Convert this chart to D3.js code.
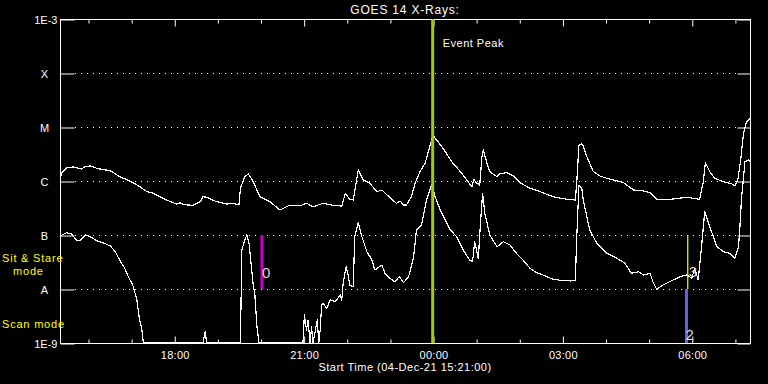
<!DOCTYPE html>
<html>
<head>
<meta charset="utf-8">
<script src="https://cdn.jsdelivr.net/npm/d3@7"></script>
<style>
  html, body { margin: 0; padding: 0; background: #000; }
  svg { display: block; }
  text { font-family: "Liberation Sans", Arial, sans-serif; fill: #fff; }
</style>
</head>
<body>
<svg id="chart" width="768" height="384"></svg>
<script>
// ---- DATA ----
const startLabel = "Start Time (04-Dec-21 15:21:00)";
const chartTitle = "GOES 14 X-Rays:";
const startUTC = Date.UTC(2021, 11, 4, 15, 21);
const spanMinutes = 960;

const yTickValues = [1e-9, 1e-8, 1e-7, 1e-6, 1e-5, 1e-4, 1e-3];
const yTickLabels = ["1E-9", "A", "B", "C", "M", "X", "1E-3"];

// Long channel (1-8 Å): minutes after start, flux W/m²
const longMinutes = [1,2,9,19,30,35,42,53,70,83,97,111,121,130,148,162,167,172,185,195,199,204,218,232,241,249,251,257,262,269,278,292,306,318,334,343,352,366,380,392,397,403,408,415,422,431,441,448,455,468,473,478,482,489,494,501,508,515,519,522,533,545,557,566,573,576,579,584,587,589,594,598,608,612,621,631,640,654,668,686,705,717,719,722,726,728,733,742,751,761,775,784,798,812,821,830,849,872,890,895,898,904,911,923,935,939,943,947,951,955,960];
const longFlux = [1.19e-6,1.39e-6,1.76e-6,1.82e-6,1.67e-6,1.84e-6,1.90e-6,1.69e-6,1.55e-6,1.20e-6,1.01e-6,7.84e-7,6.34e-7,5.92e-7,4.45e-7,3.75e-7,3.96e-7,3.64e-7,3.55e-7,4.14e-7,5.12e-7,4.99e-7,4.14e-7,3.75e-7,3.86e-7,3.60e-7,7.33e-7,1.20e-6,1.35e-6,9.7e-7,5.12e-7,4.14e-7,2.90e-7,3.49e-7,3.49e-7,3.86e-7,3.34e-7,3.86e-7,3.55e-7,3.44e-7,5.92e-7,4.58e-7,4.45e-7,1.60e-6,1.04e-6,9.06e-7,6.34e-7,6.81e-7,5.51e-7,3.86e-7,4.27e-7,3.60e-7,3.60e-7,5.12e-7,9.06e-7,1.49e-6,2.13e-6,4.64e-6,7.11e-6,6.18e-6,4.04e-6,2.28e-6,1.49e-6,1.04e-6,7.84e-7,1.07e-6,9.3e-7,8.43e-7,2.82e-6,3.75e-6,2.13e-6,1.49e-6,1.20e-6,1.35e-6,1.43e-6,1.24e-6,9.3e-7,7.33e-7,6.34e-7,5.12e-7,4.58e-7,4.45e-7,9.7e-7,4.64e-6,4.84e-6,4.45e-6,2.82e-6,1.49e-6,1.24e-6,1.12e-6,1.01e-6,9.3e-7,6.81e-7,6.53e-7,6.07e-7,4.58e-7,4.58e-7,4.99e-7,4.58e-7,9.7e-7,2.18e-6,1.49e-6,1.12e-6,9.7e-7,8.79e-7,8.07e-7,1.04e-6,2.45e-6,7.64e-6,1.25e-5,1.45e-5];

// Short channel (0.5-4 Å): minutes after start, flux W/m² (values under 1E-9 sit on the floor)
const shortMinutes = [1,9,16,23,28,35,42,51,60,70,77,83,90,95,100,102,107,110,114,116,199,202,204,251,253,257,260,263,269,271,274,277,338,340,343,345,348,350,352,358,360,362,364,366,371,376,383,390,392,394,398,401,403,408,410,415,420,427,434,438,448,452,459,466,472,478,485,492,496,503,510,517,522,529,543,552,561,570,574,577,582,585,588,591,598,608,617,626,635,645,654,663,672,686,700,710,717,719,722,726,728,737,747,761,775,786,795,805,812,821,825,830,839,853,863,872,879,883,888,893,897,904,914,923,932,939,944,946,948,953,958,960];
const shortFlux = [9.7e-8,1.10e-7,1.04e-7,8.07e-8,7.84e-8,1.0e-7,9.3e-8,7.84e-8,7.2e-8,6.25e-8,4.91e-8,3.44e-8,2.42e-8,1.69e-8,1.28e-8,1.10e-8,6.25e-9,3.07e-9,1.74e-9,5e-10,5e-10,1.62e-9,5e-10,5e-10,5.27e-8,8.07e-8,1.0e-7,7.0e-8,1.10e-8,8.3e-9,2.0e-9,5e-10,5e-10,3.3e-9,1.74e-9,2.67e-9,5e-10,2.0e-9,5e-10,2.67e-9,5e-10,1.74e-9,5.06e-9,5.43e-9,4.4e-9,6.25e-9,5.82e-9,7.74e-9,6.25e-9,1.28e-8,2.59e-8,1.82e-8,1.19e-8,1.10e-8,9.3e-8,1.69e-7,9.3e-8,4.91e-8,3.44e-8,2.25e-8,2.78e-8,1.95e-8,1.58e-8,1.36e-8,1.69e-8,1.31e-8,1.69e-8,3.96e-8,1.24e-7,1.53e-7,4.45e-7,8.43e-7,5.12e-7,2.90e-7,1.24e-7,9.3e-8,5.27e-8,3.44e-8,3.2e-8,7.5e-8,3.7e-8,1.65e-7,5.92e-7,2.52e-7,1.0e-7,6.07e-8,7.5e-8,6.53e-8,4.58e-8,3.34e-8,2.42e-8,2.0e-8,1.82e-8,1.51e-8,1.43e-8,1.41e-8,1.47e-8,9.3e-8,8.43e-7,7.33e-7,4.45e-7,1.24e-7,7.0e-8,4.58e-8,3.7e-8,2.99e-8,1.95e-8,2.09e-8,1.82e-8,1.95e-8,1.36e-8,9.9e-9,1.19e-8,1.47e-8,1.69e-8,1.82e-8,1.58e-8,2.42e-8,1.47e-8,7.0e-8,2.70e-7,1.43e-7,6.07e-8,4.91e-8,4.58e-8,3.7e-8,6.07e-8,1.43e-7,4.45e-7,2.28e-6,2.45e-6,2.28e-6];

// Vertical markers: minutes after start, flux range, label
const markerNames   = ["Event Peak", "0", "2", "3"];
const markerMinutes = [518.5, 281, 871.6, 873.4];
const markerLow     = [1e-9, 1e-8, 1e-9, 1e-8];
const markerHigh    = [1e-3, 1e-7, 1e-8, 1e-7];
const markerColors  = ["#a2cc00", "#c800c8", "#6464e6", "#ffff00"];

// ---- CHART ----
const svg = d3.select("#chart");
svg.append("rect").attr("width", 768).attr("height", 384).attr("fill", "#000");

const L = 60, R = 750, T = 19, B = 343;
const toDate = m => new Date(startUTC + m * 60000);
const x = d3.scaleUtc().domain([toDate(0), toDate(spanMinutes)]).range([L, R]);
const y = d3.scaleLog().domain([1e-9, 1e-3]).range([B, T]).clamp(true);

// dotted gridlines
const gridVals = yTickValues.slice(1, -1);
svg.append("g").selectAll("line").data(gridVals).join("line")
  .attr("x1", L + 15).attr("x2", R - 13)
  .attr("y1", d => y(d) + 0.5).attr("y2", d => y(d) + 0.5)
  .attr("stroke", "#fff").attr("stroke-width", 1)
  .attr("stroke-dasharray", "1,5");

// Y axes
const yLeft = svg.append("g").attr("transform", `translate(${L + 0.5},0.5)`)
  .call(d3.axisLeft(y).tickValues(yTickValues)
    .tickFormat((d, i) => yTickLabels[i]).tickSize(-14).tickPadding(3));
const yRight = svg.append("g").attr("transform", `translate(${R + 0.5},0.5)`)
  .call(d3.axisRight(y).tickValues(yTickValues).tickFormat("").tickSize(-13));
[yLeft, yRight].forEach(g => {
  g.select(".domain").remove();
  g.selectAll("line").attr("stroke", "#fff");
});
yLeft.selectAll("text")
  .style("font-size", "11px").attr("fill", "#fff").attr("font-family", null)
  .attr("x", d => (d === 1e-9 || d === 1e-3) ? -3 : -16)
  .attr("text-anchor", d => (d === 1e-9 || d === 1e-3) ? "end" : "middle");

// X axes
const hourTicks = d3.utcHour.every(1).range(toDate(0), toDate(spanMinutes));
const isMajor = d => d.getUTCHours() % 3 === 0;
const xBottom = svg.append("g").attr("transform", `translate(0.5,${B + 0.5})`)
  .call(d3.axisBottom(x).tickValues(hourTicks)
    .tickFormat(d => isMajor(d) ? d3.utcFormat("%H:%M")(d) : "")
    .tickSize(-4).tickPadding(8));
const xTop = svg.append("g").attr("transform", `translate(0.5,${T + 0.5})`)
  .call(d3.axisTop(x).tickValues(hourTicks).tickFormat("").tickSize(-4));
[xBottom, xTop].forEach(g => {
  g.select(".domain").remove();
  g.selectAll("line").attr("stroke", "#fff")
    .attr("y2", function(d) { return (+d3.select(this).attr("y2")) * (isMajor(d) ? 1.75 : 1); });
});
xBottom.selectAll("text").style("font-size", "11px").attr("fill", "#fff")
  .attr("font-family", null).style("letter-spacing", "0.3px");

// frame
svg.append("rect").attr("x", L + 0.5).attr("y", T + 0.5)
  .attr("width", R - L).attr("height", B - T)
  .attr("fill", "none").attr("stroke", "#fff").attr("stroke-width", 1);

// curves
const clip = svg.append("clipPath").attr("id", "plotclip")
  .append("rect").attr("x", L).attr("y", T).attr("width", R - L + 1).attr("height", B - T + 1);
const line = d3.line().x(d => x(toDate(d[0]))).y(d => y(d[1]));
const longData = longMinutes.map((m, i) => [m, longFlux[i]]);
const shortData = shortMinutes.map((m, i) => [m, shortFlux[i]]);
const curves = svg.append("g").attr("clip-path", "url(#plotclip)");
[longData, shortData].forEach(ds => {
  curves.append("path").datum(ds).attr("d", line)
    .attr("fill", "none").attr("stroke", "#fff").attr("stroke-width", 1.2)
    .attr("stroke-linejoin", "round").attr("shape-rendering", "crispEdges");
});

// markers
const markers = markerNames.map((n, i) => ({
  name: n, m: markerMinutes[i], lo: markerLow[i], hi: markerHigh[i], color: markerColors[i]
}));
svg.append("g").selectAll("line").data(markers).join("line")
  .attr("x1", d => x(toDate(d.m))).attr("x2", d => x(toDate(d.m)))
  .attr("y1", d => y(d.lo)).attr("y2", d => y(d.hi))
  .attr("stroke", d => d.color)
  .attr("stroke-width", (d, i) => i === 3 ? 1.2 : 3);

// marker labels
svg.append("text").attr("x", x(toDate(markers[0].m)) + 10).attr("y", 47)
  .style("font-size", "11px").style("letter-spacing", "0.5px").text(markers[0].name);
const numLabel = (d, dx, yy) => svg.append("text")
  .attr("x", x(toDate(d.m)) + dx).attr("y", yy)
  .style("font-size", "15px").attr("fill", "#ddd").style("fill", "#ddd").text(d.name);
numLabel(markers[1], 0, 278);
numLabel(markers[2], -1, 340);
numLabel(markers[3], 1, 277);

// title and axis title
svg.append("text").attr("x", (L + R) / 2).attr("y", 14).attr("text-anchor", "middle")
  .style("font-size", "12px").style("letter-spacing", "0.8px").text(chartTitle);
svg.append("text").attr("x", (L + R) / 2).attr("y", 371).attr("text-anchor", "middle")
  .style("font-size", "11px").style("letter-spacing", "0.5px").text(startLabel);

// mode labels
const modeLabels = [["Sit & Stare", 2, 262], ["mode", 13, 275], ["Scan mode", 2, 328]];
svg.append("g").selectAll("text").data(modeLabels).join("text")
  .attr("x", d => d[1]).attr("y", d => d[2])
  .style("font-size", "11px").style("letter-spacing", "0.8px")
  .attr("fill", "#ffff00").style("fill", "#ffff00").text(d => d[0]);
</script>
</body>
</html>
